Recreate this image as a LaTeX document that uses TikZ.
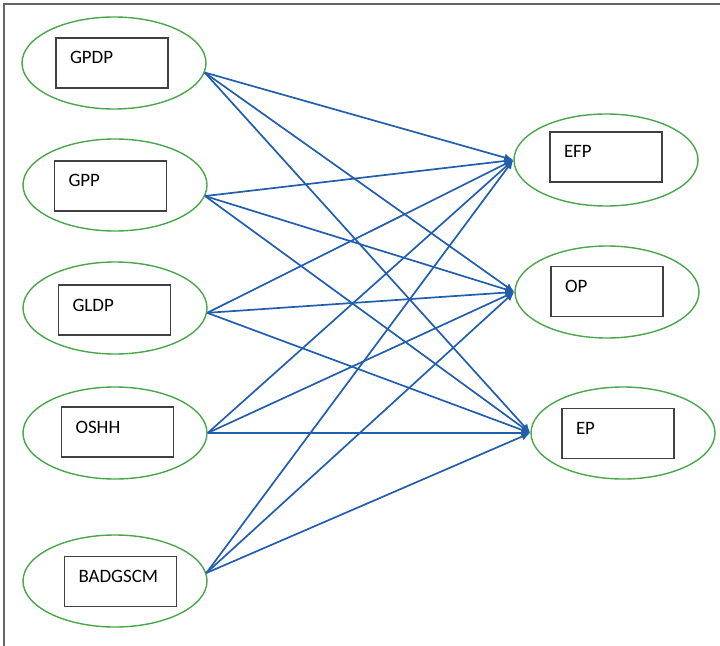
\documentclass[tikz,border=0pt]{standalone}
\usepackage{fontspec}
\setmainfont{Carlito}
\usepackage{xcolor}
\usepackage{tikz}
\usetikzlibrary{shapes,arrows.meta}
\definecolor{ringgreen}{RGB}{74,166,74}
\definecolor{linkblue}{RGB}{33,94,174}
\definecolor{framegray}{RGB}{100,100,100}
\tikzstyle{ring} = [ellipse, draw=ringgreen, line width=1.4bp,
    minimum width=184bp, minimum height=92bp, inner sep=0pt]
\tikzstyle{varbox} = [rectangle, draw=black!75, line width=1.2bp,
    inner xsep=14bp, inner ysep=0pt, text width=84bp, align=left,
    text height=26bp, text depth=24bp, font=\fontsize{19}{21}\selectfont]
\tikzstyle{link} = [draw=linkblue, line width=1.7bp, -{Latex[length=9bp,width=8bp]}]

\begin{document}
\begin{tikzpicture}[x=1bp, y=-1bp]
			\useasboundingbox (0,0) rectangle (720,646);
			% frame
			\draw [framegray, line width=1.6bp] (4,646) -- (4,4) -- (720,4);

			% left side
			\node [ring] (gpdp) at (114,63) {};
			\node [ring] (gpp) at (115,185) {};
			\node [ring] (gldp) at (115,308) {};
			\node [ring] (oshh) at (115,433) {};
			\node [ring] (badgscm) at (115,581) {};

			\node [varbox] (gpdpBox) at (112,63) {GPDP};
			\node [varbox] (gppBox) at (110.5,186) {GPP};
			\node [varbox] (gldpBox) at (114.5,310) {GLDP};
			\node [varbox] (oshhBox) at (117.5,432) {OSHH};
			\node [varbox] (badgscmBox) at (120.5,581.5) {BADGSCM};

			% right side
			\node [ring] (efp) at (606,160) {};
			\node [ring] (op) at (607,292) {};
			\node [ring] (ep) at (623,433) {};

			\node [varbox] (efpBox) at (606,157) {EFP};
			\node [varbox] (opBox) at (607,291.5) {OP};
			\node [varbox] (epBox) at (618,433.5) {EP};

			% Draw edges
			\path [link] (gpdp.-6) -- (efp.west);
			\path [link] (gpdp.-6) -- (op.west);
			\path [link] (gpdp.-6) -- (ep.west);

			\path [link] (gpp.-7) -- (efp.west);
			\path [link] (gpp.-7) -- (op.west);
			\path [link] (gpp.-7) -- (ep.west);

			\path [link] (gldp.-3) -- (efp.west);
			\path [link] (gldp.-3) -- (op.west);
			\path [link] (gldp.-3) -- (ep.west);

			\path [link] (oshh.0) -- (efp.west);
			\path [link] (oshh.0) -- (op.west);
			\path [link] (oshh.0) -- (ep.west);

			\path [link] (badgscm.5) -- (efp.west);
			\path [link] (badgscm.5) -- (op.west);
			\path [link] (badgscm.5) -- (ep.west);
%
	\end{tikzpicture}
\end{document}
